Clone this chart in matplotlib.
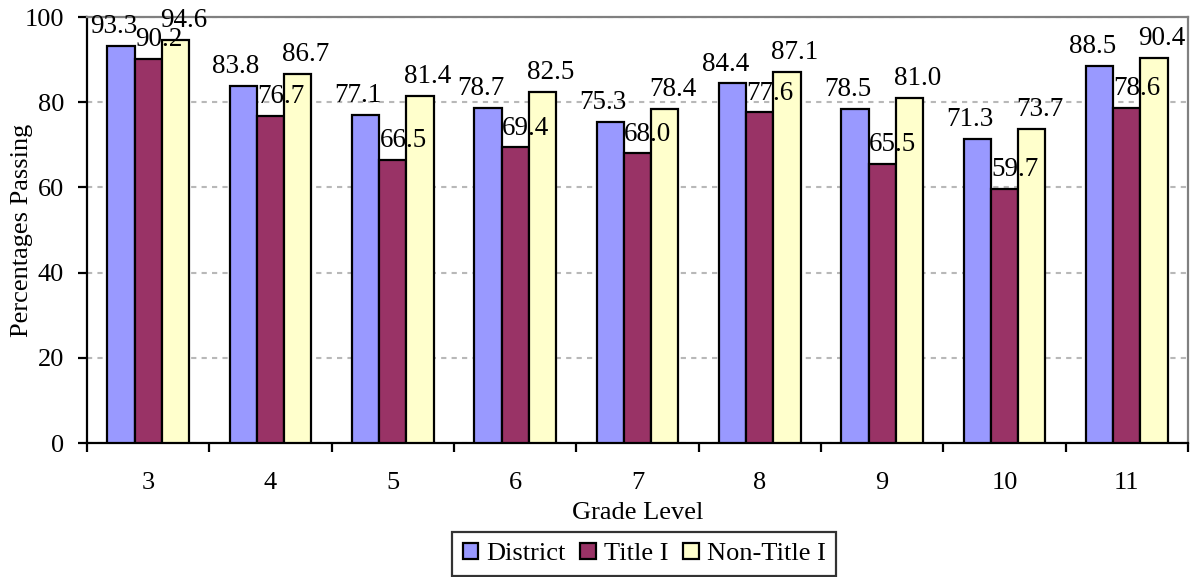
import numpy as np
import matplotlib.pyplot as plt

plt.rcParams['font.family'] = ['Liberation Serif', 'DejaVu Serif']

grades = ['3', '4', '5', '6', '7', '8', '9', '10', '11']
district = [93.3, 83.8, 77.1, 78.7, 75.3, 84.4, 78.5, 71.3, 88.5]
title_one = [90.2, 76.7, 66.5, 69.4, 68.0, 77.6, 65.5, 59.7, 78.6]
non_title = [94.6, 86.7, 81.4, 82.5, 78.4, 87.1, 81.0, 73.7, 90.4]

# name, values, colour, label x shift (category units)
series = [('District', district, '#9999FF', -0.06),
          ('Title I', title_one, '#993366', 0.085),
          ('Non-Title I', non_title, '#FFFFCC', 0.065)]

W, H = 1193, 577
fig = plt.figure(figsize=(W / 100, H / 100), dpi=100)
ax = fig.add_axes([87 / W, 1 - 443 / H, 1101 / W, 426 / H])

x = np.arange(len(grades))
w = 0.222
for i, (name, vals, col, shift) in enumerate(series):
    pos = x + (i - 1) * w
    ax.bar(pos, vals, w, color=col, edgecolor='black', linewidth=1.6, label=name, zorder=3)
    for xp, v in zip(pos, vals):
        ax.text(xp + shift, v + 3.0, f'{v:.1f}', ha='center', va='baseline', fontsize=19.5, zorder=4)

ax.set_xlim(-0.5, len(grades) - 0.5)
ax.set_ylim(0, 100)
ax.set_yticks([0, 20, 40, 60, 80, 100])
ax.yaxis.grid(True, color='#B8B8B8', linestyle=(0, (2.5, 2.5)), linewidth=1.5, zorder=0)
ax.set_xticks(x)
ax.set_xticklabels(grades)
ax.set_xticks(np.arange(-0.5, len(grades), 1), minor=True)
ax.tick_params(axis='x', which='major', length=0, labelsize=19, pad=21)
ax.tick_params(axis='x', which='minor', length=6.5, width=1.6, direction='out')
ax.tick_params(axis='y', labelsize=19, length=6.5, width=1.6, direction='out', pad=10)

for s in ['top', 'right']:
    ax.spines[s].set_color('#808080')
    ax.spines[s].set_linewidth(1.6)
for s in ['left', 'bottom']:
    ax.spines[s].set_linewidth(1.6)

ax.set_xlabel('Grade Level', fontsize=19, va='top')
ax.xaxis.set_label_coords(0.5, -(502 - 443) / 426)
ax.set_ylabel('Percentages Passing', fontsize=19)
ax.yaxis.set_label_coords((33 - 87) / 1101, 0.5)

leg = fig.legend(loc='upper left', bbox_to_anchor=(452 / W, 1 - 532 / H), ncol=3, fontsize=19,
                 frameon=True, fancybox=False, edgecolor='black', handlelength=0.6,
                 handleheight=0.6, handletextpad=0.3, columnspacing=0.55, borderpad=0.4,
                 borderaxespad=0)
leg.get_frame().set_linewidth(1.6)

fig.savefig('out.png', dpi=100)
